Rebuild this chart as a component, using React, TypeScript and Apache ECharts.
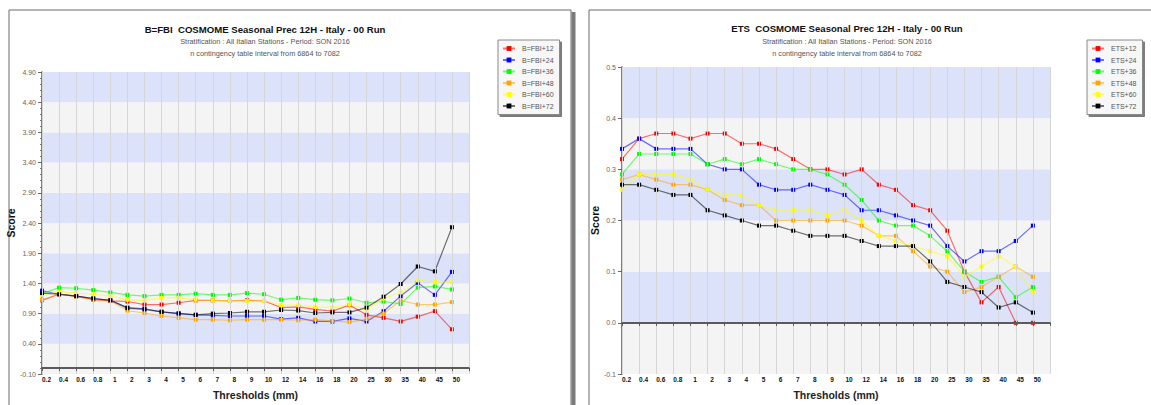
import React, { useEffect, useRef } from 'react';
import * as echarts from 'echarts';

const thresholds = ['0.2', '0.4', '0.6', '0.8', '1', '2', '3', '4', '5', '6', '7', '8', '9', '10', '12', '14', '16', '18', '20', '25', '30', '35', '40', '45', '50'];

const leadColors = ['#ff0000', '#0000ff', '#00ff00', '#ffa500', '#ffff00', '#000000'];

const fbiNames = ['B=FBI+12', 'B=FBI+24', 'B=FBI+36', 'B=FBI+48', 'B=FBI+60', 'B=FBI+72'];
const fbi12 = [1.12, 1.22, 1.19, 1.13, 1.11, 1.10, 1.05, 1.05, 1.08, 1.12, 1.12, 1.11, 1.12, 1.11, 1.00, 1.01, 0.97, 0.94, 1.04, 0.88, 0.83, 0.77, 0.85, 0.94, 0.64];
const fbi24 = [1.28, 1.22, 1.19, 1.15, 1.12, 1.00, 0.98, 0.93, 0.905, 0.88, 0.87, 0.86, 0.86, 0.86, 0.81, 0.83, 0.77, 0.77, 0.82, 0.77, 0.94, 1.19, 1.41, 1.21, 1.59];
const fbi36 = [1.23, 1.33, 1.32, 1.29, 1.25, 1.21, 1.19, 1.21, 1.21, 1.23, 1.21, 1.21, 1.24, 1.22, 1.13, 1.16, 1.13, 1.12, 1.15, 1.08, 1.10, 1.06, 1.33, 1.35, 1.30];
const fbi48 = [1.13, 1.22, 1.18, 1.13, 1.11, 0.95, 0.91, 0.86, 0.83, 0.80, 0.80, 0.79, 0.80, 0.80, 0.80, 0.79, 0.80, 0.78, 0.76, 0.81, 0.90, 1.12, 1.05, 1.05, 1.09];
const fbi60 = [1.21, 1.26, 1.24, 1.22, 1.19, 1.13, 1.12, 1.16, 1.16, 1.13, 1.12, 1.11, 1.11, 1.11, 1.04, 1.04, 1.01, 1.00, 1.05, 0.97, 1.15, 1.25, 1.45, 1.42, 1.42];
const fbi72 = [1.24, 1.22, 1.19, 1.15, 1.12, 0.99, 0.97, 0.93, 0.90, 0.88, 0.90, 0.91, 0.93, 0.93, 0.96, 0.95, 0.91, 0.92, 0.92, 1.00, 1.18, 1.39, 1.68, 1.60, 2.33];

const etsNames = ['ETS+12', 'ETS+24', 'ETS+36', 'ETS+48', 'ETS+60', 'ETS+72'];
const ets12 = [0.32, 0.36, 0.37, 0.37, 0.36, 0.37, 0.37, 0.35, 0.35, 0.34, 0.32, 0.30, 0.30, 0.29, 0.30, 0.27, 0.26, 0.23, 0.22, 0.18, 0.10, 0.04, 0.07, 0.00, 0.00];
const ets24 = [0.34, 0.36, 0.34, 0.34, 0.34, 0.31, 0.30, 0.30, 0.27, 0.26, 0.26, 0.27, 0.26, 0.25, 0.22, 0.22, 0.21, 0.20, 0.19, 0.15, 0.12, 0.14, 0.14, 0.16, 0.19];
const ets36 = [0.29, 0.33, 0.33, 0.33, 0.33, 0.31, 0.32, 0.31, 0.32, 0.31, 0.30, 0.30, 0.29, 0.27, 0.24, 0.20, 0.19, 0.19, 0.17, 0.14, 0.10, 0.08, 0.09, 0.05, 0.07];
const ets48 = [0.28, 0.29, 0.28, 0.27, 0.27, 0.26, 0.24, 0.23, 0.23, 0.20, 0.20, 0.20, 0.20, 0.20, 0.19, 0.17, 0.17, 0.14, 0.11, 0.10, 0.06, 0.07, 0.09, 0.11, 0.09];
const ets60 = [0.26, 0.29, 0.29, 0.29, 0.28, 0.26, 0.25, 0.25, 0.23, 0.22, 0.22, 0.22, 0.21, 0.22, 0.20, 0.17, 0.16, 0.15, 0.14, 0.13, 0.09, 0.11, 0.13, 0.11, 0.06];
const ets72 = [0.27, 0.27, 0.26, 0.25, 0.25, 0.22, 0.21, 0.20, 0.19, 0.19, 0.18, 0.17, 0.17, 0.17, 0.16, 0.15, 0.15, 0.15, 0.12, 0.08, 0.07, 0.06, 0.03, 0.04, 0.02];

const fbiTitle = 'B=FBI  COSMOME Seasonal Prec 12H - Italy - 00 Run';
const etsTitle = 'ETS  COSMOME Seasonal Prec 12H - Italy - 00 Run';
const subTitle = 'Stratification : All Italian Stations - Period: SON 2016';
const intervalText = 'n contingency table interval from 6864 to 7082';

const FONT = "'Liberation Sans', Arial, Helvetica, sans-serif";

function makeSeries(names: string[], data: number[][], axisIndex: number) {
  const zeroLine = {
    name: 'zero' + axisIndex,
    type: 'line',
    xAxisIndex: axisIndex,
    yAxisIndex: axisIndex,
    data: [],
    z: 1,
    silent: true,
    markLine: {
      silent: true,
      symbol: 'none',
      animation: false,
      label: { show: false },
      lineStyle: { color: '#5a5a5a', width: 2.2, type: 'solid', opacity: 1 },
      emphasis: { disabled: true },
      data: [{ yAxis: 0 }],
    },
  };
  const lines = names.map((name, i) => ({
    name,
    type: 'line',
    xAxisIndex: axisIndex,
    yAxisIndex: axisIndex,
    data: data[i],
    z: 2,
    symbol: 'rect',
    symbolSize: 4,
    showSymbol: true,
    itemStyle: { color: leadColors[i] },
    lineStyle: { color: leadColors[i], width: 1.2, opacity: 0.55 },
    emphasis: { disabled: true },
  }));
  return [zeroLine, ...lines];
}

function makeXAxis(gridIndex: number) {
  return {
    type: 'category',
    gridIndex,
    data: [...thresholds, ''],
    boundaryGap: false,
    z: 3,
    axisLine: { lineStyle: { color: '#555', width: 1.5 } },
    axisTick: { show: true, length: 3, lineStyle: { color: '#555' }, interval: 0 },
    axisLabel: {
      interval: 0,
      fontSize: 6.5,
      fontWeight: 'bold',
      color: '#111',
      margin: 2,
      padding: [0, 0, 0, 9],
      fontFamily: FONT,
    },
    splitLine: { show: true, interval: 0, lineStyle: { color: '#d6d6d6', width: 1 } },
    name: 'Thresholds (mm)',
    nameLocation: 'middle',
    nameGap: 15,
    nameTextStyle: { fontSize: 10.5, fontWeight: 'bold', color: '#222', fontFamily: FONT },
  };
}

function makeYAxis(gridIndex: number, min: number, max: number, interval: number, digits: number, minor: boolean) {
  return {
    type: 'value',
    gridIndex,
    min,
    max,
    interval,
    z: 1,
    axisLine: { show: true, lineStyle: { color: '#555', width: 1.5 } },
    axisTick: { show: true, length: 4, lineStyle: { color: '#666' } },
    minorTick: { show: minor, splitNumber: 5, length: 2, lineStyle: { color: '#777' } },
    axisLabel: {
      fontSize: 7,
      color: '#666',
      margin: 6,
      fontFamily: FONT,
      formatter: (v: number) => v.toFixed(digits),
    },
    splitLine: { show: false },
    splitArea: { show: true, areaStyle: { color: ['#f4f4f4', '#dbe2f9'] } },
    name: 'Score',
    nameLocation: 'middle',
    nameGap: 20,
    nameTextStyle: { fontSize: 10.5, fontWeight: 'bold', color: '#111', fontFamily: FONT },
  };
}

function makeLegend(names: string[], left: number) {
  return {
    data: names,
    orient: 'vertical',
    left,
    top: 40,
    itemWidth: 12,
    itemHeight: 6,
    itemGap: 4.5,
    padding: [5, 6, 5, 4],
    backgroundColor: '#f7f7f7',
    borderColor: '#8a8a8a',
    borderWidth: 1,
    shadowColor: 'rgba(90,90,90,0.8)',
    shadowOffsetX: 2,
    shadowOffsetY: 2,
    shadowBlur: 0,
    selectedMode: false,
    textStyle: { fontSize: 7, color: '#555', fontFamily: FONT, padding: [0, 0, 0, 2] },
  };
}

function textEl(text: string, x: number, y: number, size: number, bold: boolean, color: string) {
  return {
    type: 'text',
    x,
    y,
    silent: true,
    style: {
      text,
      fill: color,
      font: `${bold ? 'bold ' : ''}${size}px ${FONT}`,
      textAlign: 'center',
      textVerticalAlign: 'middle',
    },
  };
}

export default function App() {
  const ref = useRef<HTMLDivElement>(null);

  useEffect(() => {
    document.body.style.margin = '0';
    if (!ref.current) return;
    const chart = echarts.init(ref.current, undefined, { renderer: 'svg' });
    const option = {
      animation: false,
      backgroundColor: '#ffffff',
      textStyle: { fontFamily: FONT },
      grid: [
        { left: 42, top: 72, width: 427, height: 305 },
        { left: 622, top: 67, width: 428, height: 310 },
      ],
      xAxis: [makeXAxis(0), makeXAxis(1)],
      yAxis: [makeYAxis(0, -0.1, 4.9, 0.5, 2, true), makeYAxis(1, -0.1, 0.5, 0.1, 1, false)],
      legend: [makeLegend(fbiNames, 498), makeLegend(etsNames, 1087)],
      series: [
        ...makeSeries(fbiNames, [fbi12, fbi24, fbi36, fbi48, fbi60, fbi72], 0),
        ...makeSeries(etsNames, [ets12, ets24, ets36, ets48, ets60, ets72], 1),
      ],
      graphic: [
        { type: 'rect', silent: true, shape: { x: 9, y: 10, width: 562, height: 420 }, style: { fill: 'none', stroke: '#6a6a6a', lineWidth: 1 } },
        { type: 'rect', silent: true, shape: { x: 571.5, y: 12, width: 4, height: 420 }, style: { fill: '#7a7a7a' } },
        { type: 'rect', silent: true, shape: { x: 589, y: 10, width: 600, height: 420 }, style: { fill: 'none', stroke: '#6a6a6a', lineWidth: 1 } },
        textEl(fbiTitle, 265, 29, 9.6, true, '#111'),
        textEl(subTitle, 265, 41.5, 7.3, false, '#555'),
        textEl(intervalText, 265, 53.3, 7.3, false, '#555'),
        textEl(etsTitle, 847, 28.5, 9.6, true, '#111'),
        textEl(subTitle, 847, 41, 7.3, false, '#555'),
        textEl(intervalText, 847, 53.3, 7.3, false, '#555'),
      ],
    };
    chart.setOption(option as any);
    return () => chart.dispose();
  }, []);

  return <div ref={ref} style={{ position: 'absolute', left: 0, top: 0, width: 1151, height: 405 }} />;
}
